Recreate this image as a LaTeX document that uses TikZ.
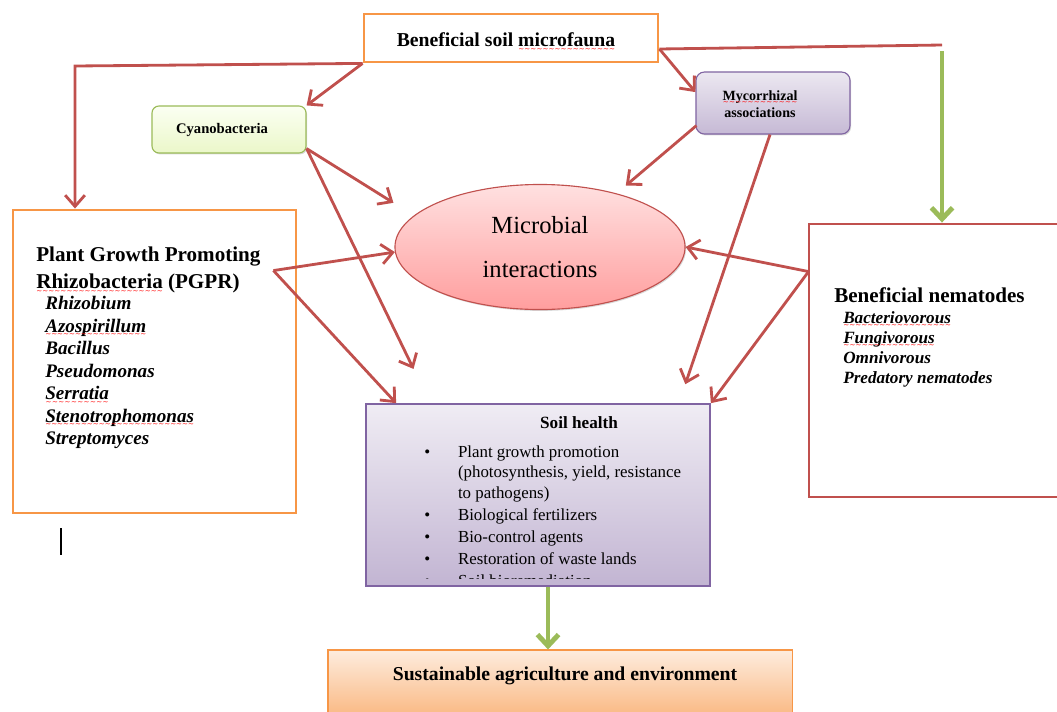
\documentclass[tikz,border=0pt]{standalone}
\usepackage{fontspec}
\setmainfont{Liberation Serif}
\newfontfamily\symfont{DejaVu Sans}
\usetikzlibrary{arrows.meta,calc,shadows,shapes.geometric}

\definecolor{arrowred}{HTML}{C0504D}
\definecolor{boxorange}{HTML}{F79646}
\definecolor{leafgreen}{HTML}{9BBB59}
\definecolor{lilac}{HTML}{8064A2}

\newcommand\setfs[2]{\fontsize{#1}{#2}\selectfont}
\newcommand\redsq[1]{\setbox0\hbox{#1}\rlap{\copy0}\smash{\raisebox{-3.4pt}{\textcolor{red}{\hbox to\wd0{\xleaders\hbox{\symfont\mdseries\upshape\fontsize{5}{5}\selectfont\char"223C}\hfill}}}}}

\tikzset{
  framebox/.style={draw, line width=2pt, inner sep=0},
  softbox/.style={draw, line width=0.8pt, inner sep=0,
    drop shadow={opacity=0.3, shadow xshift=0.8pt, shadow yshift=-1pt}},
  textblock/.style={anchor=north west, inner sep=0, align=left},
  redline/.style={draw=arrowred, line width=2pt},
  redarrow/.style={redline, -{Straight Barb[length=8pt,width=14pt]}},
  greenarrow/.style={draw=leafgreen, line width=3.5pt, -{Straight Barb[length=8pt,width=15pt]}},
}

\begin{document}
\begin{tikzpicture}[x=0.025cm, y=-0.025cm]
  \useasboundingbox (0,0) rectangle (1057,711);

  \node[framebox, draw=boxorange, minimum width=7.35cm, minimum height=1.2cm] (fauna) at (511,38) {};
  \node[font=\bfseries\setfs{14}{16}] (faunatext) at (506,40) {Beneficial soil \redsq{microfauna}};

  \node[softbox, draw=leafgreen, rounded corners=5pt, top color=green!8!lime!5!white,
    bottom color=leafgreen!45!lime!25!white, minimum width=3.85cm, minimum height=1.175cm] (cyano) at (229,129.5) {};
  \node[font=\bfseries\setfs{10.4}{12}] (cyanotext) at (222,130) {Cyanobacteria};

  \node[softbox, draw=lilac, rounded corners=6pt, top color=lilac!15!white,
    bottom color=lilac!45!white, minimum width=3.85cm, minimum height=1.55cm] (myco) at (773,103) {};
  \node[align=center, font=\bfseries\setfs{10}{12.5}] (mycotext) at (760,104) {\redsq{Mycorrhizal}\\associations};

  \node[ellipse, softbox, draw=arrowred, top color=red!12!white, bottom color=red!38!white,
    minimum width=7.25cm, minimum height=3.125cm, align=center,
    font=\setfs{17.5}{31}] (micro) at (540,247) {Microbial\\interactions};

  % PGPR
  \node[framebox, draw=boxorange, minimum width=7.075cm, minimum height=7.575cm] (pgpr) at (154.5,361.5) {};
  \node[textblock, font=\bfseries\setfs{15}{19.2}] (pgprtitle) at (36,247)
    {Plant Growth Promoting\\\redsq{Rhizobacteria} (PGPR)};
  \node[textblock, font=\bfseries\itshape\setfs{13.6}{16}] (pgprlist) at (45,296)
    {Rhizobium\\\redsq{Azospirillum}\\Bacillus\\Pseudomonas\\\redsq{Serratia}\\\redsq{Stenotrophomonas}\\Streptomyces};

  % nematodes
  \node[framebox, draw=arrowred, minimum width=6.325cm, minimum height=6.825cm] (nema) at (935.5,360.5) {};
  \node[textblock, font=\bfseries\setfs{15}{18}] (nematitle) at (834,287) {Beneficial nematodes};
  \node[textblock, font=\bfseries\itshape\setfs{12.2}{14.2}] (nemalist) at (843,311)
    {\redsq{Bacteriovorous}\\\redsq{Fungivorous}\\Omnivorous\\Predatory nematodes};

  % soil health
  \node[softbox, draw=lilac, line width=1.2pt, top color=lilac!12!white, bottom color=lilac!48!white,
    minimum width=8.6cm, minimum height=4.55cm] (soil) at (538,495) {};
  \node[font=\bfseries\setfs{12.2}{14}] (soiltitle) at (579,423) {Soil health};
  \begin{scope}
    \clip ($(soil.north west)+(2,2)$) rectangle ($(soil.south east)+(-2,-8)$);
    \node[textblock, font=\setfs{12}{14.5}] (soilitems) at (424,443)
      {\begin{tabular}{@{}p{24pt}@{}l@{}}
        \textbullet & Plant growth promotion\\
                    & (photosynthesis, yield, resistance\\
                    & to pathogens)\\[1.2pt]
        \textbullet & Biological fertilizers\\[1.2pt]
        \textbullet & Bio-control agents\\[1.2pt]
        \textbullet & Restoration of waste lands\\[1.2pt]
        \textbullet & Soil bioremediation
      \end{tabular}};
  \end{scope}

  \node[softbox, draw=boxorange, top color=boxorange!18!white, bottom color=boxorange!70!white,
    minimum width=11.6cm, minimum height=1.75cm] (sust) at (560,685) {};
  \node[font=\bfseries\setfs{14}{16}] (susttext) at (565,676) {Sustainable agriculture and environment};

  \draw[line width=2pt] (61,528) -- (61,555);

  % connectors
  \coordinate (lcorner) at (75,66);
  \coordinate (rcorner) at (942,45);
  \coordinate (faunaout) at ($(fauna.east)+(0,11)$);
  \coordinate (pgprout) at ($(pgpr.north east)+(-24,62)$);
  \coordinate (nemaout) at ($(nema.north west)+(1,49)$);
  \coordinate (soilout) at ($(soil.south)+(10,0)$);

  \draw[redarrow] (fauna.south west) -- (lcorner) -- (lcorner |- pgpr.north);
  \draw[redarrow] (fauna.south west) -- (cyano.north east);
  \draw[redline] (faunaout) -- (rcorner);
  \draw[greenarrow] ($(rcorner)+(0,6)$) -- (rcorner |- nema.north);
  \draw[redarrow] (faunaout) -- (myco.172);

  \draw[redarrow, shorten >=0.6cm] ($(cyano.south east)+(0,-5)$) -- (micro.166);
  \draw[redarrow, shorten >=0.95cm] ($(cyano.south east)+(0,-5)$) -- ($(soil.north west)+(65,0)$);
  \draw[redarrow] (pgprout) -- (micro.182);
  \draw[redarrow] (pgprout) -- ($(soil.north west)+(31,0)$);
  \draw[redarrow, shorten >=0.3cm] ($(myco.south west)+(1,-9)$) -- (micro.35);
  \draw[redarrow, shorten >=0.5cm] ($(myco.south)+(-3,0)$) -- ($(soil.north east)+(-32,0)$);
  \draw[redarrow] (nemaout) -- (micro.east);
  \draw[redarrow] (nemaout) -- (soil.north east);
  \draw[greenarrow] (soilout) -- (soilout |- sust.north);
\end{tikzpicture}
\end{document}
